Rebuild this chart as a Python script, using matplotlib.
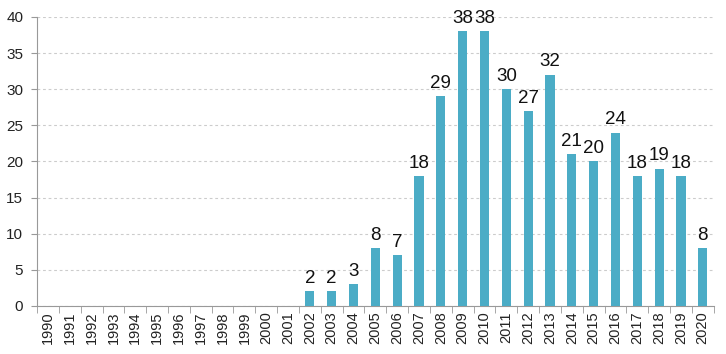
import matplotlib
matplotlib.use("Agg")
import matplotlib.pyplot as plt
import numpy as np

years = [str(y) for y in range(1990, 2021)]
values = [0, 0, 0, 0, 0, 0, 0, 0, 0, 0, 0, 0,
          2, 2, 3, 8, 7, 18, 29, 38, 38, 30, 27, 32,
          21, 20, 24, 18, 19, 18, 8]
yticks = [0, 5, 10, 15, 20, 25, 30, 35, 40]

plt.rcParams['font.family'] = ['Liberation Sans', 'DejaVu Sans']

fig = plt.figure(figsize=(7.26, 3.54), dpi=100)
ax = fig.add_axes([0.051, 0.136, 0.932, 0.816])

x = np.arange(len(years))
ax.bar(x, values, width=0.42, color='#4BACC6', zorder=3)

for xi, v in zip(x, values):
    if v > 0:
        ax.text(xi, v + 0.6, str(v), ha='center', va='bottom', fontsize=13.5, color='#111111')

ax.set_xlim(-0.5, len(years) - 0.5)
ax.set_ylim(0, 40)
ax.set_yticks(yticks)
ax.set_yticklabels([str(t) for t in yticks], fontsize=11, color='#222222')
ax.set_xticks(x)
ax.set_xticklabels(years, rotation=90, fontsize=10.5, color='#222222')
ax.tick_params(axis='x', which='major', length=0, pad=4)
ax.set_xticks(np.arange(-0.5, len(years), 1), minor=True)
ax.tick_params(axis='x', which='minor', length=5, color='#999999')
ax.tick_params(axis='y', length=4, color='#999999', pad=6)

ax.grid(axis='y', linestyle=(0, (2.5, 2.5)), color='#cccccc', linewidth=0.8, zorder=0)
for s in ['top', 'right']:
    ax.spines[s].set_visible(False)
ax.spines['left'].set_color('#999999')
ax.spines['bottom'].set_color('#999999')

fig.savefig('out.png', dpi=100)
